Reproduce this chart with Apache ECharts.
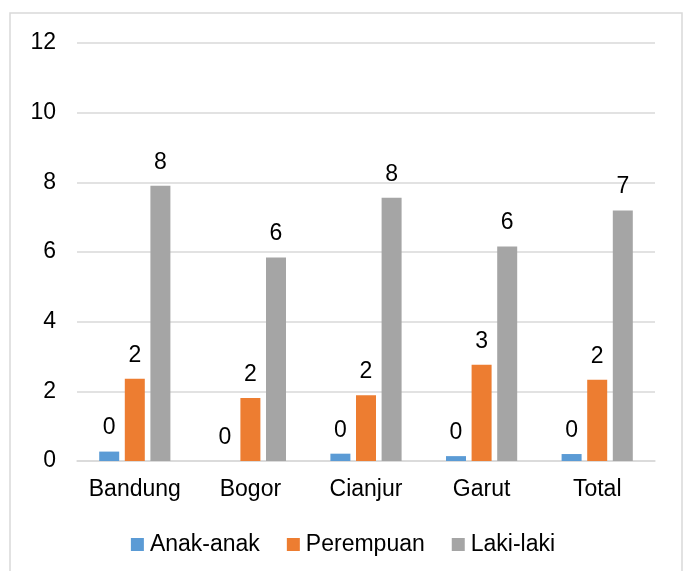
<html lang="en">
<head>
    <meta charset="UTF-8">
    <script src="https://cdn.jsdelivr.net/npm/echarts@6/dist/echarts.min.js"></script>
    <style type="text/css">
        html, body, #main {
            height: 100%;
            width: 100%;
            margin: 0;
            padding: 0;
            background: #fff;
        }
    </style>
    <title>chart</title>
</head>
<body>
<div id="main"></div>
<script>
    var categories = ['Bandung', 'Bogor', 'Cianjur', 'Garut', 'Total'];
    var seriesNames = ['Anak-anak', 'Perempuan', 'Laki-laki'];
    var anakAnak = [0.27, 0, 0.21, 0.14, 0.2];
    var perempuan = [2.36, 1.81, 1.89, 2.76, 2.33];
    var lakiLaki = [7.9, 5.84, 7.56, 6.16, 7.19];
    var colors = ['#5B9BD5', '#ED7D31', '#A5A5A5'];
    var yTicks = [0, 2, 4, 6, 8, 10, 12];

    var font = 'Liberation Sans, Arial, sans-serif';
    var fontSize = 23;
    var myChart = echarts.init(document.getElementById('main'));

    function bar(name, data, color) {
        return {
            name: name,
            type: 'bar',
            data: data,
            barWidth: 20,
            barGap: '28%',
            itemStyle: {color: color},
            label: {
                show: true,
                position: 'top',
                distance: 12,
                color: '#000',
                fontFamily: font,
                fontSize: fontSize,
                formatter: function (p) {
                    return Math.round(p.value);
                }
            }
        };
    }

    var option = {
        animation: false,
        color: colors,
        graphic: [{
            type: 'rect',
            shape: {x: 10, y: 13, width: 672, height: 570},
            style: {fill: null, stroke: '#D9D9D9', lineWidth: 1.5}
        }],
        grid: {left: 77, right: 31, top: 43, bottom: 110},
        legend: {
            data: seriesNames,
            bottom: 10,
            left: 'center',
            itemWidth: 13,
            itemHeight: 13,
            itemGap: 27,
            icon: 'rect',
            textStyle: {fontFamily: font, fontSize: fontSize, color: '#000', padding: [0, 0, 0, 1]}
        },
        xAxis: {
            type: 'category',
            data: categories,
            axisTick: {show: false},
            axisLine: {lineStyle: {color: '#D9D9D9', width: 1.5}},
            axisLabel: {interval: 0, fontFamily: font, fontSize: fontSize, color: '#000', margin: 17}
        },
        yAxis: {
            type: 'value',
            min: yTicks[0],
            max: yTicks[yTicks.length - 1],
            interval: 2,
            axisLine: {show: false},
            axisTick: {show: false},
            splitLine: {lineStyle: {color: '#D9D9D9', width: 1.5}},
            axisLabel: {fontFamily: font, fontSize: fontSize, color: '#000', margin: 21}
        },
        series: [
            bar(seriesNames[0], anakAnak, colors[0]),
            bar(seriesNames[1], perempuan, colors[1]),
            bar(seriesNames[2], lakiLaki, colors[2])
        ]
    };

    myChart.setOption(option);
</script>
</body>
</html>
